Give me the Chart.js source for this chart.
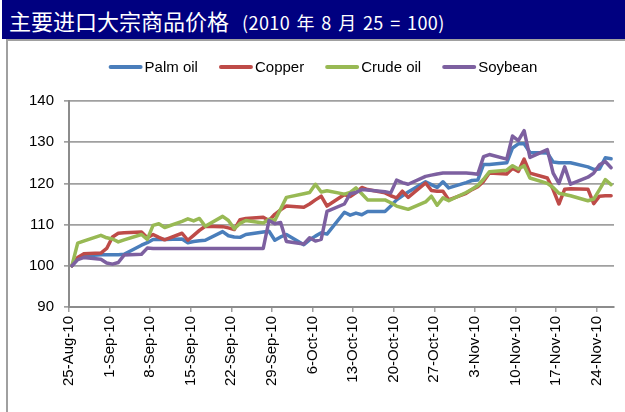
<!DOCTYPE html>
<html>
<head>
<meta charset="utf-8">
<script src="https://cdn.jsdelivr.net/npm/chart.js@4"></script>
<style>
  html, body { margin: 0; padding: 0; background: #fff; }
  #wrap { position: relative; width: 625px; height: 412px; overflow: hidden; }
  #frame { position: absolute; left: 6px; top: 39px; width: 640px; height: 400px;
           border-left: 2px solid #a0a0a0; border-top: 2px solid #a0a0a0; }
  #title { position: absolute; left: 2px; top: 0; width: 623px; height: 39px;
           background: #000080; color: #fff; white-space: nowrap;
           font-family: "Noto Sans CJK SC", sans-serif; }
  #title .cn { font-size: 22px; line-height: 40px; padding-left: 7px; }
  #title .sub { font-size: 18px; margin-left: 13px; letter-spacing: 0.4px; word-spacing: 2px; }
  canvas { position: absolute; left: 0; top: 0; }
</style>
</head>
<body>
<div id="wrap">
  <div id="frame"></div>
  <canvas id="chart" width="625" height="412"></canvas>
  <div id="title"><span class="cn">主要进口大宗商品价格</span><span class="sub">(2010 年 8 月 25 = 100)</span></div>
</div>
<script>
'use strict';

// trading days (weekdays), 25 Aug 2010 = 100
const dates = [
  '2010-08-25', '2010-08-26', '2010-08-27',
  '2010-08-30', '2010-08-31', '2010-09-01', '2010-09-02', '2010-09-03',
  '2010-09-06', '2010-09-07', '2010-09-08', '2010-09-09', '2010-09-10',
  '2010-09-13', '2010-09-14', '2010-09-15', '2010-09-16', '2010-09-17',
  '2010-09-20', '2010-09-21', '2010-09-22', '2010-09-23', '2010-09-24',
  '2010-09-27', '2010-09-28', '2010-09-29', '2010-09-30', '2010-10-01',
  '2010-10-04', '2010-10-05', '2010-10-06', '2010-10-07', '2010-10-08',
  '2010-10-11', '2010-10-12', '2010-10-13', '2010-10-14', '2010-10-15',
  '2010-10-18', '2010-10-19', '2010-10-20', '2010-10-21', '2010-10-22',
  '2010-10-25', '2010-10-26', '2010-10-27', '2010-10-28', '2010-10-29',
  '2010-11-01', '2010-11-02', '2010-11-03', '2010-11-04', '2010-11-05',
  '2010-11-08', '2010-11-09', '2010-11-10', '2010-11-11', '2010-11-12',
  '2010-11-15', '2010-11-16', '2010-11-17', '2010-11-18', '2010-11-19',
  '2010-11-22', '2010-11-23', '2010-11-24', '2010-11-25', '2010-11-26',
];

const palmOil = [
  100, 101.6, 102.4,
  102.7, 102.7, 102.7, 102.7, 102.8,
  105.0, 105.6, 106.4, 106.4, 106.4,
  106.5, 105.6, 105.9, 106.1, 106.2,
  108.3, 107.3, 107.0, 106.9, 107.6,
  108.2, 108.4, 106.2, 107.0, 107.6,
  105.1, 106.3, 107.2, 108.0, 107.7,
  113.0, 112.3, 112.8, 112.4, 113.2,
  113.2, 114.5, 116.0, 117.0, 117.9,
  120.4, 119.7, 119.0, 120.4, 118.9,
  120.2, 120.7, 120.8, 124.6, 124.6,
  125.0, 128.6, 129.6, 129.6, 127.5,
  127.4, 125.2, 125.0, 125.0, 125.0,
  124.0, 123.4, 123.5, 126.2, 126.0,
];

const copper = [
  100, 102.0, 102.9,
  103.1, 104.2, 107.0, 107.9, 108.0,
  108.2, 106.8, 107.6, 106.9, 106.3,
  107.9, 106.2, 107.4, 108.6, 109.6,
  109.5, 109.2, 108.8, 111.2, 111.5,
  111.8, 111.0, 112.5, 113.6, 114.5,
  114.2, 115.0, 116.0, 116.9, 114.5,
  117.3, 116.8, 117.8, 119.0, 118.5,
  117.7, 117.0, 116.5, 118.1, 116.6,
  120.1, 118.3, 118.1, 118.1, 116.0,
  117.6, 118.5, 119.2, 120.5, 122.5,
  122.3, 123.7, 122.9, 125.9, 122.5,
  121.3, 118.5, 115.0, 118.6, 118.7,
  118.6, 115.1, 116.9, 117.0, 117.0,
];

const crudeOil = [
  100, 105.5, 106.0,
  107.4, 106.8, 106.5, 105.8, 106.3,
  107.6, 106.4, 109.8, 110.2, 109.3,
  110.8, 111.4, 110.9, 111.5, 109.6,
  112.0, 111.0, 109.0, 110.3, 111.0,
  110.4, 111.3, 111.0, 113.8, 116.6,
  117.5, 117.8, 119.8, 117.9, 118.2,
  117.4, 117.8, 118.9, 117.5, 116.0,
  116.0, 115.3, 114.5, 114.1, 113.7,
  115.5, 116.9, 114.7, 116.5, 115.8,
  117.8, 118.6, 119.5, 121.0, 122.8,
  123.2, 124.3, 123.5, 124.3, 121.3,
  120.0, 119.0, 117.6, 117.3, 117.0,
  115.8, 116.2, 118.5, 120.9, 119.7,
];

const soybean = [
  100, 101.5, 102.0,
  101.6, 100.7, 100.4, 100.8, 102.6,
  102.8, 104.3, 104.2, 104.2, 104.2,
  104.2, 104.2, 104.2, 104.2, 104.2,
  104.2, 104.2, 104.2, 104.2, 104.2,
  104.2, 111.0, 110.2, 110.5, 105.9,
  105.3, 106.8, 106.0, 106.4, 113.2,
  115.0, 117.5, 117.8, 118.5, 118.4,
  118.0, 117.7, 120.8, 120.2, 119.8,
  121.7, 122.0, 122.3, 122.5, 122.5,
  122.5, 122.4, 122.2, 126.5, 127.0,
  125.9, 131.5, 130.4, 132.8, 126.3,
  128.2, 122.5, 120.0, 124.0, 119.8,
  121.5, 122.5, 124.5, 125.3, 123.8,
];

const seriesNames = ['Palm oil', 'Copper', 'Crude oil', 'Soybean'];
const seriesColors = ['#4A7EBB', '#BE4B48', '#98B954', '#7D60A0'];
const tickLabels = ['25-Aug-10', '1-Sep-10', '8-Sep-10', '15-Sep-10', '22-Sep-10', '29-Sep-10',
  '6-Oct-10', '13-Oct-10', '20-Oct-10', '27-Oct-10', '3-Nov-10', '10-Nov-10', '17-Nov-10', '24-Nov-10'];
const yTicks = { min: 90, max: 140, step: 5 };

const FONT = '"Liberation Sans", Arial, sans-serif';
const GRID = '#a0a0a0';

// each date sits in the middle of its one-day slot, like Excel's date axis
const startMs = Date.parse(dates[0]);
const dayOf = s => (Date.parse(s) - startMs) / 864e5;
const lastDay = dayOf(dates[dates.length - 1]) + 1;

function toPoints(values) {
  return values.map((v, i) => ({ x: dayOf(dates[i]) + 0.5, y: v }));
}

const allValues = [palmOil, copper, crudeOil, soybean];

const datasets = allValues.map((vals, i) => ({
  label: seriesNames[i],
  data: toPoints(vals),
  borderColor: seriesColors[i],
  backgroundColor: seriesColors[i],
  borderWidth: 3.5,
  borderJoinStyle: 'round',
  borderCapStyle: 'round',
  pointRadius: 0,
  tension: 0,
  order: allValues.length - i,   // later series on top
}));

const legendPlugin = {
  id: 'topLegend',
  afterDraw(chart) {
    const ctx = chart.ctx;
    const sw = 34, gap = 2, spacing = 21, cy = 67;
    ctx.save();
    ctx.font = '15px ' + FONT;
    ctx.textBaseline = 'middle';
    const items = chart.data.datasets.map(ds => ({
      label: ds.label, color: ds.borderColor, w: ctx.measureText(ds.label).width,
    }));
    const total = items.reduce((a, it) => a + sw + gap + it.w, 0) + spacing * (items.length - 1);
    let x = 323 - total / 2;
    items.forEach(it => {
      ctx.strokeStyle = it.color;
      ctx.lineWidth = 4;
      ctx.lineCap = 'round';
      ctx.beginPath();
      ctx.moveTo(x + 2, cy);
      ctx.lineTo(x + sw - 2, cy);
      ctx.stroke();
      ctx.fillStyle = '#000';
      ctx.fillText(it.label, x + sw + gap, cy + 1);
      x += sw + gap + it.w + spacing;
    });
    ctx.restore();
  },
};

new Chart(document.getElementById('chart'), {
  type: 'line',
  data: { datasets },
  options: {
    responsive: false,
    animation: false,
    layout: { padding: { top: 101, right: 11, bottom: 0, left: 0 } },
    plugins: { legend: { display: false }, tooltip: { enabled: false } },
    scales: {
      x: {
        type: 'linear',
        min: 0,
        max: lastDay,
        afterBuildTicks: s => { s.ticks = tickLabels.map((_, i) => ({ value: i * 7 })); },
        afterFit: s => { s.height = 105; },
        ticks: {
          autoSkip: false,
          minRotation: 90,
          maxRotation: 90,
          padding: 4,
          color: '#000',
          font: { family: FONT, size: 15 },
          callback: (v, i) => tickLabels[i],
        },
        grid: { drawOnChartArea: false, color: GRID, lineWidth: 1.5, tickLength: 5 },
        border: { color: '#8c8c8c', width: 2 },
      },
      y: {
        min: yTicks.min,
        max: yTicks.max,
        afterFit: s => { s.width = 69; },
        ticks: {
          stepSize: yTicks.step,
          padding: 10,
          color: '#000',
          font: { family: FONT, size: 15 },
        },
        grid: { color: GRID, lineWidth: 1.7, tickLength: 5 },
        border: { color: '#8c8c8c', width: 2 },
      },
    },
  },
  plugins: [legendPlugin],
});
</script>
</body>
</html>
